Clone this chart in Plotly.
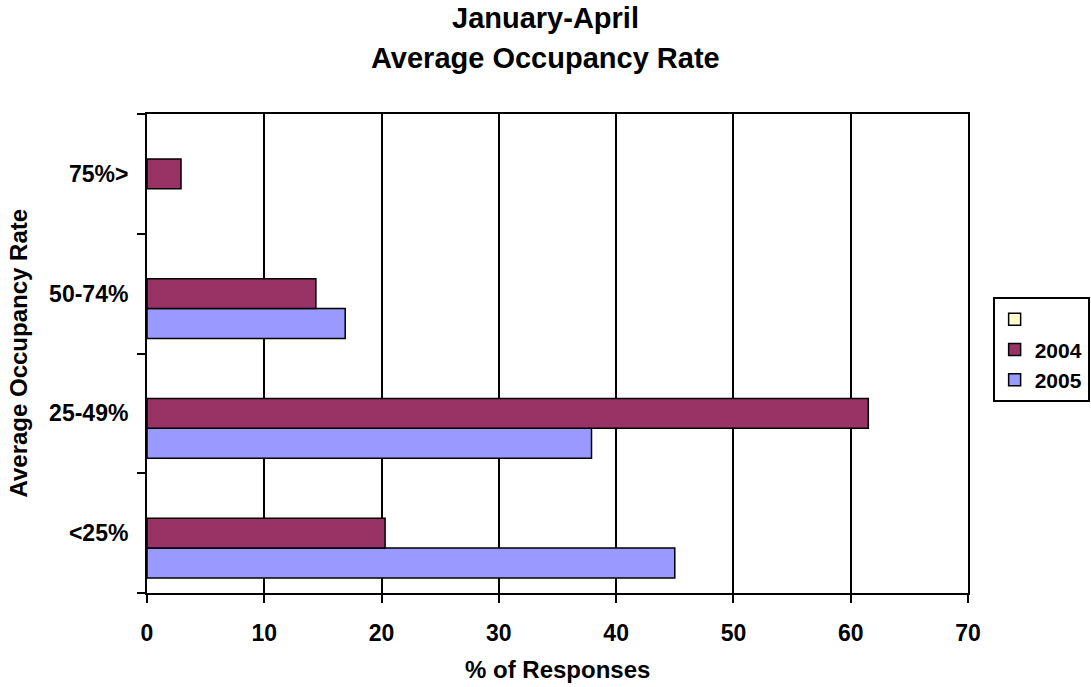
import plotly.graph_objects as go

# Occupancy-rate bands, bottom to top
categories = ["<25%", "25-49%", "50-74%", "75%>"]
values_2004 = [20.3, 61.5, 14.4, 2.9]
values_2005 = [45.0, 37.9, 16.9, None]
values_blank = [None, None, None, None]

x_ticks = [0, 10, 20, 30, 40, 50, 60, 70]

FONT = "Liberation Sans, Arial, sans-serif"
BAR_LINE = dict(color="black", width=1.5)

fig = go.Figure()
# Plotly stacks horizontal groups bottom-up, so add the lowest bar first
fig.add_trace(go.Bar(y=categories, x=values_2005, name="2005", orientation="h",
                     marker=dict(color="#9999FF", line=BAR_LINE)))
fig.add_trace(go.Bar(y=categories, x=values_2004, name="2004", orientation="h",
                     marker=dict(color="#993366", line=BAR_LINE)))
fig.add_trace(go.Bar(y=categories, x=values_blank, name="", orientation="h",
                     marker=dict(color="#FFFFCC", line=BAR_LINE), showlegend=True))

fig.update_layout(
    width=1091, height=687,
    margin=dict(l=147, r=123, t=114, b=94, autoexpand=False),
    paper_bgcolor="white", plot_bgcolor="white",
    font=dict(family=FONT, color="black"),
    barmode="group", bargap=0.25, bargroupgap=0,
    showlegend=True,
    legend=dict(
        traceorder="reversed",
        x=1.03, y=0.618, xanchor="left", yanchor="top",
        bordercolor="black", borderwidth=2, bgcolor="white",
        font=dict(size=21, family=FONT, color="black", weight="bold"),
        itemwidth=30, tracegroupgap=0,
    ),
    annotations=[
        dict(text="<b>January-April</b>", xref="paper", yref="paper",
             x=(545 - 147) / 821, y=1 + (114 - 18) / 479, xanchor="center", yanchor="middle",
             showarrow=False, font=dict(size=29, family=FONT)),
        dict(text="<b>Average Occupancy Rate</b>", xref="paper", yref="paper",
             x=(545 - 147) / 821, y=1 + (114 - 58) / 479, xanchor="center", yanchor="middle",
             showarrow=False, font=dict(size=29, family=FONT)),
        dict(text="<b>% of Responses</b>", xref="paper", yref="paper",
             x=0.5, y=-(669 - 593) / 479, xanchor="center", yanchor="middle",
             showarrow=False, font=dict(size=24, family=FONT)),
        dict(text="<b>Average Occupancy Rate</b>", xref="paper", yref="paper",
             x=-(147 - 18) / 821, y=0.5, xanchor="center", yanchor="middle",
             textangle=-90, showarrow=False, font=dict(size=24, family=FONT)),
    ],
)

fig.update_xaxes(
    range=[0, 70], tickvals=x_ticks, ticktext=[f"<b>{t}</b>" for t in x_ticks],
    showgrid=True, gridcolor="black", gridwidth=2,
    showline=True, linecolor="black", linewidth=2, mirror=True,
    ticks="outside", ticklen=8, tickwidth=2, tickcolor="black",
    zeroline=False, ticklabelstandoff=10, tickfont=dict(size=23, family=FONT),
)
fig.update_yaxes(
    type="category", categoryorder="array", categoryarray=categories,
    tickvals=categories, ticktext=[f"<b>{c}</b>" for c in categories],
    tickson="boundaries", ticks="outside", ticklen=8, tickwidth=2, tickcolor="black",
    showgrid=False, showline=True, linecolor="black", linewidth=2, mirror=True,
    ticklabelstandoff=12, tickfont=dict(size=23, family=FONT),
)

fig.write_html("out.html")
